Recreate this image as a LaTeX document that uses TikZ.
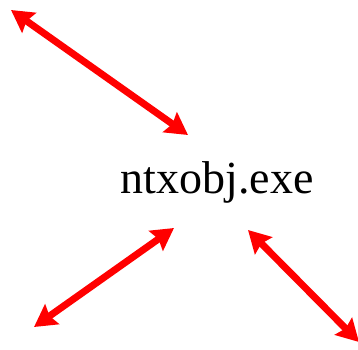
\documentclass[tikz,border=0pt]{standalone}
\usepackage{fontspec}
\setmainfont{Liberation Serif}
\usetikzlibrary{arrows.meta,positioning}

\tikzset{
	link/.style = {draw=red, line width=7pt, {Stealth[length=22pt,width=24pt,inset=3pt]}-{Stealth[length=22pt,width=24pt,inset=3pt]}},
	exename/.style = {font=\fontsize{46}{52}\selectfont, inner sep=0pt}
}

\begin{document}
\begin{tikzpicture}[x=1pt, y=-1pt]
				\useasboundingbox (0, 0) rectangle (358, 349);
				\node[exename] (exe) at (217, 182) {ntxobj.exe};

				\coordinate (a1) at (11, 10);
				\coordinate (a2) at (188, 135);
				\draw[link] (a1) to (a2);

				\coordinate (b1) at (34, 327);
				\coordinate (b2) at (174, 228);
				\draw[link] (b1) to (b2);

				\coordinate (c1) at (248, 230);
				\coordinate (c2) at (359, 342);
				\draw[link] (c1) to (c2);
			\end{tikzpicture}
\end{document}
